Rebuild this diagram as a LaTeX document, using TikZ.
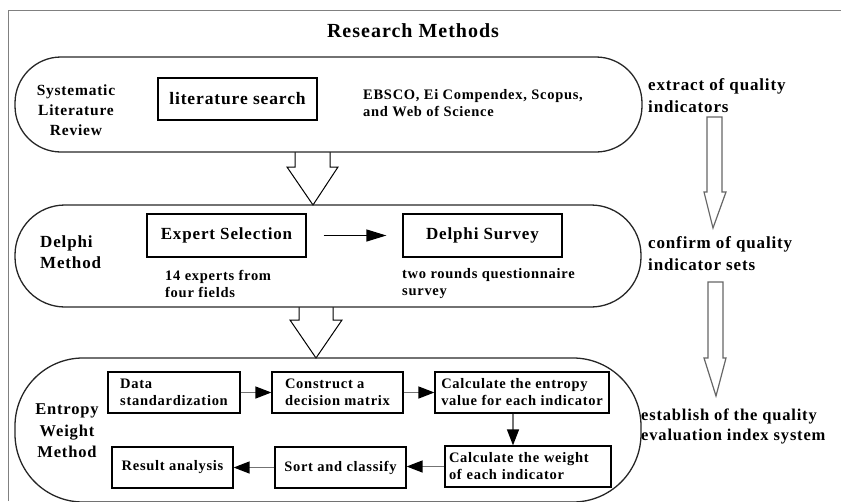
\documentclass[tikz,border=0pt]{standalone}
\usepackage{fontspec}
\setmainfont{Liberation Serif}[LetterSpace=5]
\usetikzlibrary{arrows.meta}
\newcommand\myfs[2]{\fontsize{#1}{#2}\selectfont\bfseries}
\begin{document}
\begin{tikzpicture}[x=1pt,y=-1pt,
  pill/.style={draw=black!85, line width=1.3pt, inner sep=0pt},
  box/.style={draw=black, line width=1.2pt, inner sep=0pt, align=left},
  lbl/.style={inner sep=0pt, align=left, anchor=west},
  ctr/.style={inner sep=0pt, align=center},
  hollow/.style={draw=black, line width=1pt, fill=white, line join=miter},
  thinarrow/.style={draw=black!60, line width=1.2pt, fill=white, line join=miter},
  flow/.style={draw=black!55, line width=1.3pt, -{Triangle[length=16pt,width=12pt,black]}},
  mainflow/.style={draw=black, line width=1.2pt, -{Triangle[length=20pt,width=12pt,black]}}
]
\useasboundingbox (0,0) rectangle (841,501);
% frame
\draw[black!50, line width=1pt] (8,501) -- (8,10) -- (841,10);
% title
\node[ctr, font=\myfs{20}{24}] (title) at (413,31) {Research Methods};

% hollow arrows between stages (drawn first, under pill lines)
\coordinate (a1) at (295,152);
\coordinate (a2) at (299,307);
\draw[hollow] (a1) -- ++(0,15) -- ++(-8,0) -- ++(26,38) -- ++(25,-38) -- ++(-8,0) -- ++(0,-15);
\draw[hollow] (a2) -- ++(0,13) -- ++(-9,0) -- ++(26,38) -- ++(26,-38) -- ++(-9,0) -- ++(0,-13);

% pills
\node[pill, minimum width=627pt, minimum height=95pt, rounded corners=46pt] (p1) at (328.5,104.5) {};
\node[pill, minimum width=626pt, minimum height=102pt, rounded corners=50pt] (p2) at (328,256) {};
\node[pill, minimum width=626pt, minimum height=144pt, rounded corners=68pt] (p3) at (328,430) {};

% stage 1
\node[ctr, font=\myfs{15.5}{20}] (slr) at (76,110) {Systematic\\Literature\\Review};
\node[box, font=\myfs{17.5}{20}, minimum width=159pt, minimum height=42pt] (ls) at (237.5,99) {literature search};
\node[lbl, font=\myfs{14.5}{17}] (db) at (363,103) {EBSCO, Ei Compendex, Scopus,\\and Web of Science};
\node[lbl, font=\myfs{17}{22}] (r1) at (648,96) {extract of quality\\indicators};

% stage 2
\node[lbl, font=\myfs{17}{21}] (dm) at (40,252) {Delphi\\Method};
\node[box, font=\myfs{17}{20}, minimum width=159pt, minimum height=43pt] (es) at (226.5,235.5) {Expert Selection};
\node[box, font=\myfs{17}{20}, minimum width=159pt, minimum height=43pt] (dsv) at (482.5,235.5) {Delphi Survey};
\draw[mainflow, shorten <=17pt, shorten >=16pt] (es) -- (dsv);
\node[lbl, font=\myfs{14.5}{17}] (ex) at (165,284) {14 experts from\\four fields};
\node[lbl, font=\myfs{14.5}{17}] (tr) at (402,284) {two rounds questionnaire\\survey};
\node[lbl, font=\myfs{17}{22}] (r2) at (648,254) {confirm of quality\\indicator sets};

% stage 3
\node[ctr, font=\myfs{16.5}{21.5}] (ewm) at (67,431) {Entropy\\Weight\\Method};
\tikzset{sbox/.style={box, font=\myfs{14.5}{17}, minimum height=41pt}}
\node[sbox, minimum width=132pt] (dst) at (174,392.5) {Data\\standardization};
\node[sbox, minimum width=131pt] (cm) at (337.5,392.5) {Construct a\\decision matrix};
\node[sbox, minimum width=174pt] (ce) at (522,392.5) {Calculate the entropy\\value for each indicator};
\node[sbox, minimum width=166pt, text width=158pt] (cw) at (528,466.5) {Calculate the weight\\of each indicator};
\node[sbox, minimum width=131pt] (sc) at (340.5,467.5) {Sort and classify};
\node[sbox, minimum width=121pt] (ra) at (172.5,467.5) {Result analysis};
\draw[flow] (dst) -- (cm);
\draw[flow] (cm) -- (ce);
\draw[flow] ([xshift=-9pt]ce.south) -- ([xshift=-15pt]cw.north);
\draw[flow] (cw.west) -- (cw.west -| sc.east);
\draw[flow] (sc) -- (ra);
\node[lbl, font=\myfs{16.5}{20}] (r3) at (641,426) {establish of the quality\\evaluation index system};

% thin hollow arrows on the right
\coordinate (t1) at (707,117);
\coordinate (t2) at (708,282);
\draw[thinarrow] (t1) -- ++(15,0) -- ++(0,75) -- ++(4,0) -- ++(-13,36) -- ++(-9,-36) -- ++(3,0) -- cycle;
\draw[thinarrow] (t2) -- ++(15,0) -- ++(0,76) -- ++(3,0) -- ++(-10,38) -- ++(-12,-38) -- ++(4,0) -- cycle;
\end{tikzpicture}
\end{document}
